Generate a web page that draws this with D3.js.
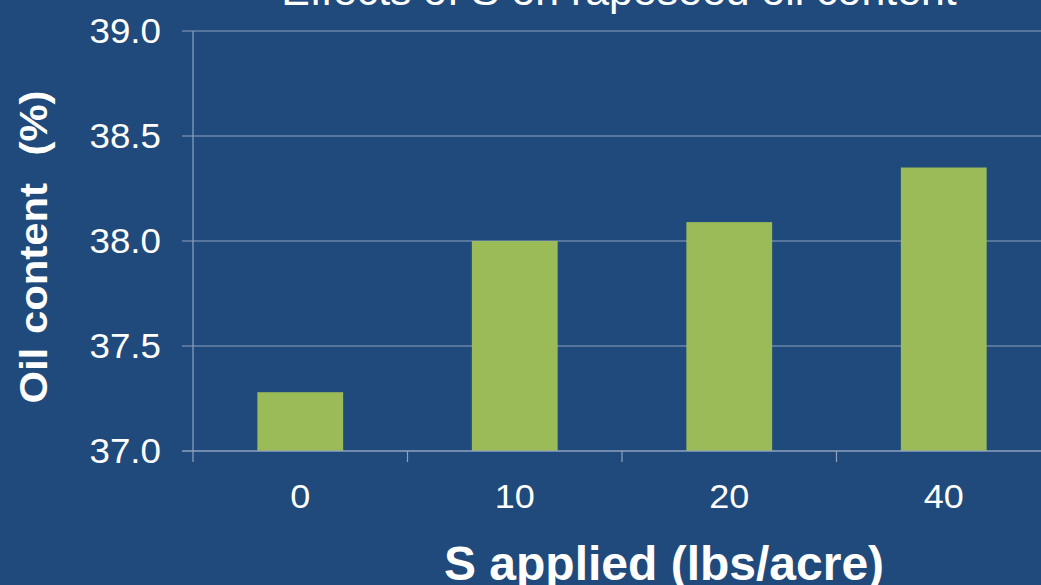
<!DOCTYPE html>
<html>
<head>
<meta charset="utf-8">
<script src="https://cdn.jsdelivr.net/npm/d3@7"></script>
<style>
  html, body { margin: 0; padding: 0; background: #204a7c; }
  svg { display: block; }
  text { font-family: "Liberation Sans", Arial, sans-serif; fill: #ffffff; }
</style>
</head>
<body>
<svg id="chart" width="1041" height="585"></svg>
<script>
// Sulfur rate (lbs/acre) and resulting rapeseed oil content (%)
const categories = ["0", "10", "20", "40"];
const oilContent = [37.28, 38.0, 38.09, 38.35];
const yTicks = [37.0, 37.5, 38.0, 38.5, 39.0];

const W = 1041, H = 585;
const plotLeft = 193, plotRight = 1051, plotTop = 31, plotBottom = 451;

const svg = d3.select("#chart");
svg.append("rect").attr("width", W).attr("height", H).attr("fill", "#204a7c");

const x = d3.scaleBand().domain(categories).range([plotLeft, plotRight])
  .paddingInner(0.6).paddingOuter(0.3);
const y = d3.scaleLinear().domain([37, 39]).range([plotBottom, plotTop]);

const gridColor = "#8ea2c0";

// horizontal gridlines with short ticks left of the axis
svg.append("g").selectAll("line").data(yTicks).join("line")
  .attr("x1", plotLeft - 11).attr("x2", W)
  .attr("y1", d => y(d)).attr("y2", d => y(d))
  .attr("stroke", gridColor).attr("stroke-width", 1.2);

// bars
svg.append("g").selectAll("rect").data(oilContent).join("rect")
  .attr("x", (d, i) => x(categories[i]))
  .attr("width", x.bandwidth())
  .attr("y", d => y(d))
  .attr("height", d => y(37) - y(d))
  .attr("fill", "#9bbb59");

// baseline redrawn over bars
svg.append("line").attr("x1", plotLeft - 11).attr("x2", W)
  .attr("y1", y(37)).attr("y2", y(37))
  .attr("stroke", gridColor).attr("stroke-width", 1.2);

// y axis line
svg.append("line").attr("x1", plotLeft).attr("x2", plotLeft)
  .attr("y1", y(39)).attr("y2", y(37) + 11)
  .attr("stroke", gridColor).attr("stroke-width", 1.2);

// x tick marks at band boundaries
const bounds = categories.map(c => x(c) - x.step() * x.paddingInner() / 2).slice(1);
svg.append("g").selectAll("line").data(bounds).join("line")
  .attr("x1", d => d).attr("x2", d => d)
  .attr("y1", y(37)).attr("y2", y(37) + 11)
  .attr("stroke", gridColor).attr("stroke-width", 1.2);

// slightly wide lettering
const wide = (sx) => (tx, ty) => `translate(${tx},${ty}) scale(${sx},1)`;

// y tick labels
svg.append("g").selectAll("text").data(yTicks).join("text")
  .attr("transform", d => wide(1.05)(161, y(d) + 12))
  .attr("text-anchor", "end")
  .style("font-size", "35px")
  .text(d => d.toFixed(1));

// x tick labels
svg.append("g").selectAll("text").data(categories).join("text")
  .attr("transform", d => wide(1.06)(x(d) + x.bandwidth() / 2, 508))
  .attr("text-anchor", "middle")
  .style("font-size", "34px")
  .text(d => d);

// axis titles
svg.append("text")
  .attr("transform", wide(1.0)(664, 580))
  .attr("text-anchor", "middle")
  .style("font-size", "48px").style("font-weight", "bold")
  .text("S applied (lbs/acre)");

svg.append("text")
  .attr("transform", "translate(47,247) rotate(-90) scale(1.1,1)")
  .attr("text-anchor", "middle")
  .style("font-size", "38px").style("font-weight", "bold")
  .style("white-space", "pre").style("word-spacing", "2px")
  .text("Oil content  (%)");

// chart title (partly above the frame)
svg.append("text")
  .attr("transform", wide(1.02)(619, 4.5))
  .attr("text-anchor", "middle")
  .style("font-size", "42px")
  .text("Effects of S on rapeseed oil content");
</script>
</body>
</html>
